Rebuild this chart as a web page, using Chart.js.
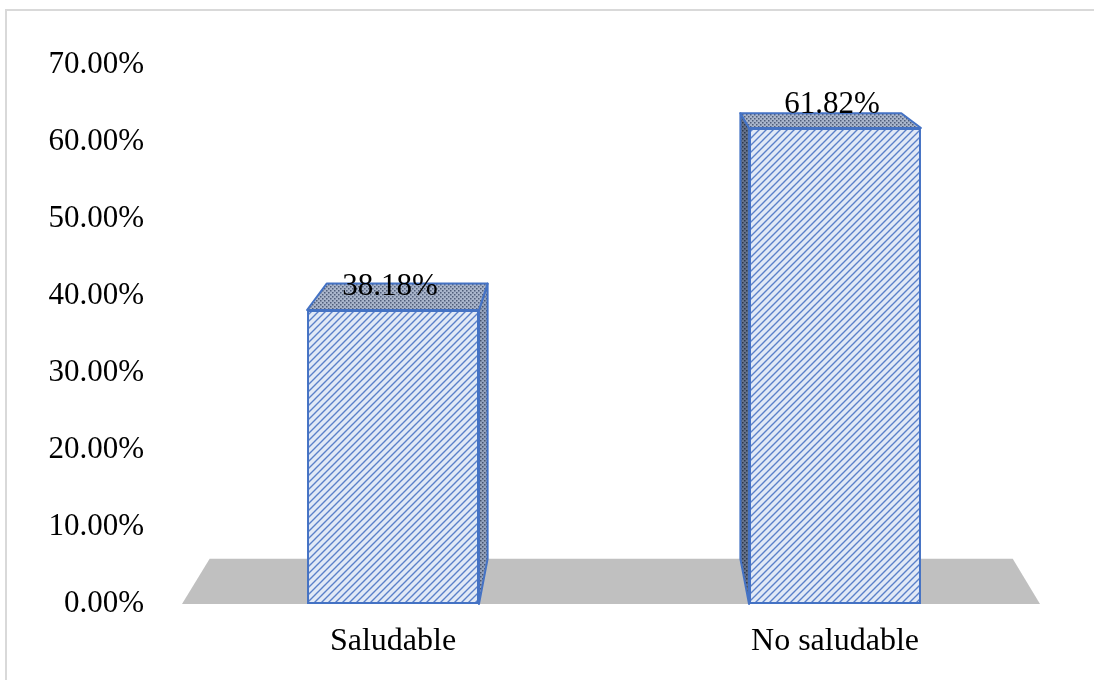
<!DOCTYPE html>
<html>
<head>
<meta charset="utf-8">
<script src="https://cdn.jsdelivr.net/npm/chart.js@4.4.1/dist/chart.umd.min.js"></script>
<style>
    html, body { margin: 0; padding: 0; background: #fff; }
    #wrap { position: relative; width: 1094px; height: 680px; }
</style>
</head>
<body>
<div id="wrap"><canvas id="chart" width="1094" height="680"></canvas></div>
<script>
/* ==========================
   DADOS
========================== */
const categories = ["Saludable", "No saludable"];
const values = [38.18, 61.82];
const yTicks = [0, 10, 20, 30, 40, 50, 60, 70];

/* ==========================
   ESTILO
========================== */
const FONT = "'Liberation Serif', 'Times New Roman', serif";
const EDGE = "#4472c4";
const depthK = 0.064;

function pct(v) {
    return Number(v).toFixed(2) + "%";
}

const canvas = document.getElementById("chart");
const ctx = canvas.getContext("2d");

// hachura diagonal (face frontal)
function stripePattern(bg, fg, size) {
    const c = document.createElement("canvas");
    c.width = size; c.height = size;
    const g = c.getContext("2d");
    g.fillStyle = bg;
    g.fillRect(0, 0, size, size);
    g.strokeStyle = fg;
    g.lineWidth = 1.4;
    g.beginPath();
    g.moveTo(-1, size + 1); g.lineTo(size + 1, -1);
    g.moveTo(-2, 2); g.lineTo(2, -2);
    g.moveTo(size - 2, size + 2); g.lineTo(size + 2, size - 2);
    g.stroke();
    return ctx.createPattern(c, "repeat");
}

// pontilhado (topo e laterais)
function dotPattern(bg, fg) {
    const c = document.createElement("canvas");
    c.width = 4; c.height = 4;
    const g = c.getContext("2d");
    g.fillStyle = bg;
    g.fillRect(0, 0, 4, 4);
    g.fillStyle = fg;
    g.fillRect(0, 0, 1.5, 1.5);
    g.fillRect(2, 2, 1.5, 1.5);
    return ctx.createPattern(c, "repeat");
}

const frontFill = stripePattern("#e1e9f6", "#5a80c9", 7);
const topFill = dotPattern("#a9b5cb", "#4f5d79");
const sideFillLight = dotPattern("#94a2bc", "#46546f");
const sideFillDark = dotPattern("#66728a", "#2d384c");

/* ==========================
   PERSPECTIVA 3D
========================== */
function toBack(pt, area) {
    const vx = (area.left + area.right) / 2;
    const vy = area.top - 168;
    return { x: pt.x + (vx - pt.x) * depthK, y: pt.y + (vy - pt.y) * depthK };
}

function poly(c, pts, fill) {
    c.beginPath();
    c.moveTo(pts[0].x, pts[0].y);
    for (let i = 1; i < pts.length; i++) c.lineTo(pts[i].x, pts[i].y);
    c.closePath();
    c.fillStyle = fill;
    c.fill();
}

function polyStroke(c, pts) {
    c.beginPath();
    c.moveTo(pts[0].x, pts[0].y);
    for (let i = 1; i < pts.length; i++) c.lineTo(pts[i].x, pts[i].y);
    c.closePath();
    c.strokeStyle = EDGE;
    c.lineWidth = 2;
    c.lineJoin = "round";
    c.stroke();
}

const bar3d = {
    id: "bar3d",
    beforeDraw(chart) {
        const c = chart.ctx;
        c.save();
        c.strokeStyle = "#d9d9d9";
        c.lineWidth = 2;
        c.strokeRect(6, 10, 1100, 700);
        c.restore();
    },
    beforeDatasetsDraw(chart) {
        const c = chart.ctx;
        const a = chart.chartArea;
        const fl = { x: a.left + 10, y: a.bottom };
        const fr = { x: a.right - 16, y: a.bottom };
        c.save();
        poly(c, [fl, toBack(fl, a), toBack(fr, a), fr], "#c0c0c0");
        c.restore();
    },
    afterDatasetsDraw(chart) {
        const c = chart.ctx;
        const a = chart.chartArea;
        const vx = (a.left + a.right) / 2;
        const meta = chart.getDatasetMeta(0);
        c.save();
        meta.data.forEach((bar) => {
            const p = bar.getProps(["x", "y", "base", "width"], true);
            const l = p.x - p.width / 2, r = p.x + p.width / 2;
            const tl = { x: l, y: p.y }, tr = { x: r, y: p.y };
            const bl = { x: l, y: p.base }, br = { x: r, y: p.base };

            // lateral visivel
            let side;
            if (p.x < vx) {
                side = [tr, toBack(tr, a), toBack(br, a), br];
                poly(c, side, sideFillLight);
            } else {
                side = [tl, toBack(tl, a), toBack(bl, a), bl];
                poly(c, side, sideFillDark);
            }
            polyStroke(c, side);

            // topo
            const top = [tl, toBack(tl, a), toBack(tr, a), tr];
            poly(c, top, topFill);
            polyStroke(c, top);
        });

        // rotulos de dados
        c.font = "31px " + FONT;
        c.fillStyle = "#000";
        c.textAlign = "center";
        c.textBaseline = "middle";
        meta.data.forEach((bar, i) => {
            const p = bar.getProps(["x", "y"], true);
            c.fillText(pct(values[i]), p.x - 3, p.y - 23);
        });
        c.restore();
    }
};

/* ==========================
   CHART
========================== */
new Chart(ctx, {
    type: "bar",
    data: {
        labels: categories,
        datasets: [{
            data: values,
            backgroundColor: frontFill,
            borderColor: EDGE,
            borderWidth: 2,
            borderSkipped: false,
            barPercentage: 0.389,
            categoryPercentage: 1
        }]
    },
    options: {
        responsive: false,
        animation: false,
        layout: { padding: { top: 65, right: 38, left: 0, bottom: 0 } },
        plugins: {
            legend: { display: false },
            tooltip: { enabled: false }
        },
        scales: {
            x: {
                grid: { display: false, drawTicks: false },
                border: { display: false },
                ticks: {
                    color: "#000",
                    font: { family: FONT, size: 32 },
                    padding: 18
                },
                afterFit: (scale) => { scale.height = 76; }
            },
            y: {
                min: 0,
                max: 70,
                grid: { display: false, drawTicks: false },
                border: { display: false },
                afterBuildTicks: (scale) => {
                    scale.ticks = yTicks.map(v => ({ value: v }));
                },
                ticks: {
                    color: "#000",
                    font: { family: FONT, size: 31 },
                    padding: 28,
                    callback: (v) => pct(v)
                },
                afterFit: (scale) => { scale.width = 172; }
            }
        }
    },
    plugins: [bar3d]
});
</script>
</body>
</html>
